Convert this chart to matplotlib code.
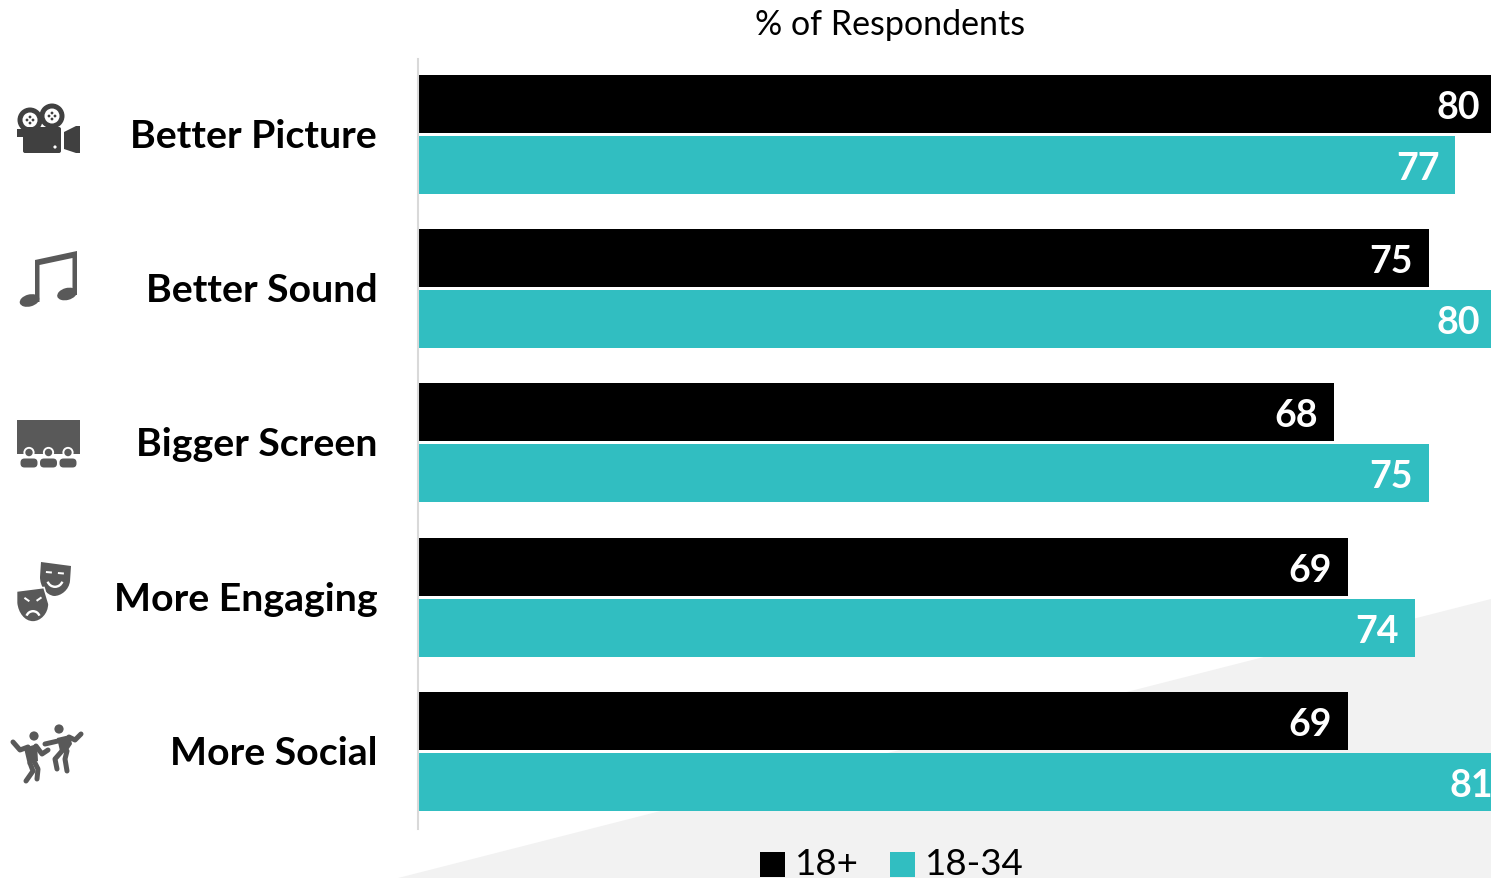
import matplotlib
matplotlib.use("Agg")
import matplotlib.pyplot as plt
from matplotlib.patches import Polygon, Circle, Rectangle, Ellipse, FancyBboxPatch, Wedge, PathPatch
from matplotlib.path import Path
from matplotlib.transforms import ScaledTranslation

categories = ["Better Picture", "Better Sound", "Bigger Screen", "More Engaging", "More Social"]
series_all = [80, 75, 68, 69, 69]
series_young = [77, 80, 75, 74, 81]
series_names = ["18+", "18-34"]
title = "% of Respondents"

BLACK = "#000000"; TEAL = "#31BEC1"; GREY = "#595959"; DARK = "#404040"; BG = "#F2F2F2"
W, H = 1491, 879
plt.rcParams['font.family'] = ['Lato', 'DejaVu Sans']
fig = plt.figure(figsize=(W/100, H/100), dpi=100, facecolor="white")

# background wedge + icons in pixel coordinates
bg = fig.add_axes([0, 0, 1, 1], zorder=0)
bg.set_xlim(0, W); bg.set_ylim(H, 0); bg.axis("off")
bg.add_patch(Polygon([(398, 879), (1491, 600), (1491, 879)], closed=True, fc=BG, ec="none"))

def cam(a):
    for c, r in (((30, 121), 12.5), ((52, 117), 12.5)):
        a.add_patch(Circle(c, r, fc=DARK, ec="none"))
        a.add_patch(Circle(c, 7.5, fc="white", ec="none"))
        for dx, dy in [(-3, 0), (3, 0), (0, -3), (0, 3)]:
            a.add_patch(Circle((c[0]+dx, c[1]+dy), 1.4, fc=DARK, ec="none"))
    a.add_patch(FancyBboxPatch((23, 128), 38, 26, boxstyle="round,pad=0,rounding_size=2", fc=DARK, ec="none"))
    a.add_patch(Rectangle((17, 130), 6, 8, fc=DARK, ec="none"))
    a.add_patch(Polygon([(64, 133), (76, 127), (80, 127), (80, 154), (76, 154), (64, 150)], fc=DARK, ec="none"))
    a.add_patch(Circle((55, 148), 1.6, fc="white", ec="none"))

def music(a):
    a.add_patch(Polygon([(35, 261), (77, 252), (77, 296), (72.5, 296), (72.5, 259), (39.5, 266), (39.5, 303), (35, 303)], fc=GREY, ec="none"))
    a.add_patch(Ellipse((29.5, 301.5), 20, 12, angle=-15, fc=GREY, ec="none"))
    a.add_patch(Ellipse((67, 295), 20, 12, angle=-15, fc=GREY, ec="none"))

def screen(a):
    a.add_patch(Rectangle((17, 420.5), 63, 34, fc=GREY, ec="none"))
    for x in (29, 48.5, 68):
        a.add_patch(Circle((x, 453.5), 5.6, fc="white", ec="none"))
        a.add_patch(Circle((x, 453.5), 3.7, fc=GREY, ec="none"))
        a.add_patch(FancyBboxPatch((x-8.5, 459.5), 17, 9, boxstyle="round,pad=0,rounding_size=4", fc=GREY, ec="none"))

def mask_path(pts):
    return Path(pts, [Path.MOVETO, Path.LINETO, Path.LINETO, Path.CURVE4, Path.CURVE4, Path.CURVE4,
                      Path.CURVE4, Path.CURVE4, Path.CURVE4, Path.CLOSEPOLY])

def masks(a):
    a.add_patch(PathPatch(mask_path([(41, 563), (71, 567), (70, 582), (69, 591), (61, 597), (54, 597),
                                     (46, 596), (40, 587), (40, 578), (41, 563)]), fc=GREY, ec="none"))
    a.add_patch(Rectangle((46, 572), 6, 2, angle=5, fc="white", ec="none"))
    a.add_patch(Rectangle((58, 573), 6, 2, angle=5, fc="white", ec="none"))
    a.add_patch(Wedge((55, 580), 9, 20, 160, width=2.4, fc="white", ec="none"))
    a.add_patch(PathPatch(mask_path([(16.5, 592), (44, 588.5), (49, 605), (49, 615), (41, 623), (33, 623),
                                     (24, 623), (17.5, 614), (16.5, 604), (16.5, 592)]), fc=GREY, ec="white", lw=1.2))
    a.add_patch(Rectangle((25, 598), 6, 2, angle=35, fc="white", ec="none"))
    a.add_patch(Rectangle((36, 601), 6, 2, angle=-35, fc="white", ec="none"))
    a.add_patch(Wedge((33, 619), 8, 200, 340, width=2.4, fc="white", ec="none"))

def dancers(a):
    lw = 3.6
    def limb(pts):
        a.plot(*zip(*pts), color=GREY, lw=lw, solid_capstyle="round", solid_joinstyle="round")
    a.add_patch(Circle((34, 737), 4.6, fc=GREY, ec="none"))
    a.add_patch(Polygon([(24, 749), (37, 745), (38, 762), (28, 766)], fc=GREY, ec="none"))
    limb([(13, 743), (20, 751), (28, 748)]); limb([(36, 747), (42, 755), (48, 751)])
    limb([(30, 764), (33, 772), (26, 782)]); limb([(35, 764), (38, 770), (37, 780)])
    a.add_patch(Circle((59, 730), 4.6, fc=GREY, ec="none"))
    a.add_patch(Polygon([(57, 739), (70, 736), (72, 745), (66, 754), (60, 752)], fc=GREY, ec="none"))
    limb([(45, 745), (58, 742)]); limb([(69, 738), (75, 741), (81, 735)])
    limb([(62, 752), (55, 760), (57, 770)]); limb([(67, 752), (65, 760), (67, 772)])

for f in (cam, music, screen, masks, dancers):
    f(bg)

# bars
LEFT = 417.5
ax = fig.add_axes([LEFT/W, 1-829.5/H, (W-LEFT)/W, 771.5/H], zorder=1)
ax.patch.set_alpha(0)
K = (W-LEFT)/13.48
ax.set_xlim(0, K); ax.set_ylim(4.5, -0.5)
h = 58/154.3; off = 30.5/154.3
ys = list(range(len(categories)))
b1 = ax.barh([y-off for y in ys], series_all, height=h, color=BLACK, label=series_names[0])
b2 = ax.barh([y+off for y in ys], series_young, height=h, color=TEAL, label=series_names[1])
for bars, vals in ((b1, series_all), (b2, series_young)):
    for r, v in zip(bars, vals):
        ax.annotate(str(v), (v, r.get_y()+r.get_height()/2), xytext=(-11.5, 0), textcoords="offset points",
                    ha="right", va="center_baseline", color="white", fontsize=27, fontweight="bold", annotation_clip=False)
for s in ("top", "right", "bottom"):
    ax.spines[s].set_visible(False)
ax.spines["left"].set_color("#D9D9D9"); ax.spines["left"].set_linewidth(1.5)
ax.spines["left"].set_bounds(4.5, -0.49)
ax.set_xticks([])
ax.set_yticks(ys, categories, fontsize=28.3, fontweight="bold", color="black")
ax.tick_params(axis="y", length=0, pad=29)
for lab in ax.get_yticklabels():
    lab.set_transform(lab.get_transform() + ScaledTranslation(0, 2/100, fig.dpi_scale_trans))

fig.text(890/W, 1-25/H, title, ha="center", va="center", fontsize=24.5, color="black")
leg = fig.legend(handles=[b1, b2], labels=series_names, loc="center", bbox_to_anchor=(892/W, 1-865/H), ncol=2, frameon=False,
                 fontsize=26.5, handlelength=0.67, handleheight=0.67, handletextpad=0.28, columnspacing=0.85, labelcolor="black")
for p in leg.legend_handles:
    p.set_y(p.get_y() - 1.8)
fig.savefig("out.png", dpi=100)
